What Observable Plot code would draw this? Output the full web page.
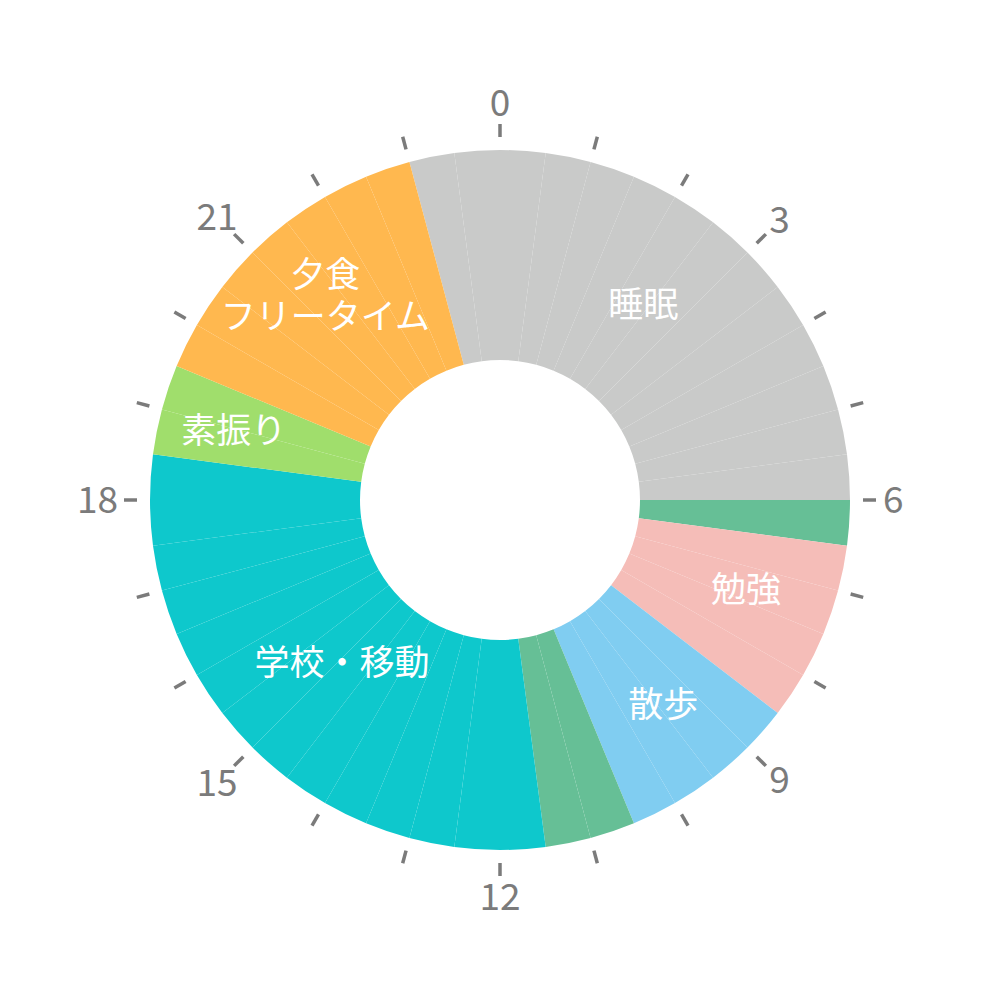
<!DOCTYPE html>
<html>
<head>
<meta charset="utf-8">
<script src="https://cdn.jsdelivr.net/npm/d3@7"></script>
<script src="https://cdn.jsdelivr.net/npm/@observablehq/plot@0.6"></script>
<style>
  html, body { margin: 0; padding: 0; background: #ffffff; }
  #chart { width: 1000px; height: 1000px; }
</style>
</head>
<body>
<div id="chart"></div>
<script>
// ---- Data: a day schedule (hours, 24h clock), split into 30-minute slots ----
const runActivity = ["睡眠", "食事", "勉強", "散歩", "食事", "学校・移動", "素振り", "夕食・フリータイム"];
const runStart    = [23,     6,      6.5,    8.5,    10.5,   11.5,         18.5,     19.5];
const runEnd      = [6,      6.5,    8.5,    10.5,   11.5,   18.5,         19.5,     23];

const activityOrder  = ["睡眠", "食事", "勉強", "散歩", "学校・移動", "素振り", "夕食・フリータイム"];
const activityColors = ["#c9cac9", "#66bf96", "#f5bdb8", "#80cdf1", "#0ec8cc", "#a0de6c", "#ffb84f"];

const labelActivity = ["睡眠", "勉強", "散歩", "学校・移動", "素振り", "夕食・フリータイム"];
const labelText     = ["睡眠", "勉強", "散歩", "学校・移動", "素振り", "夕食\nフリータイム"];

const tickHours      = [0, 1, 2, 3, 4, 5, 6, 7, 8, 9, 10, 11, 12, 13, 14, 15, 16, 17, 18, 19, 20, 21, 22, 23];
const tickLabelHours = [0, 3, 6, 9, 12, 15, 18, 21];
const tickLabelText  = ["0", "3", "6", "9", "12", "15", "18", "21"];

// ---- Build tables from the arrays ----
const SLOT = 0.5;
const slots = [];
runActivity.forEach((a, i) => {
  const s = runStart[i];
  const e = runEnd[i] < s ? runEnd[i] + 24 : runEnd[i];
  for (let t = s; t < e - 1e-9; t += SLOT) {
    const st = t % 24;
    slots.push({activity: a, start: st, end: st + SLOT});
  }
});

const labels = labelActivity.map((a, k) => {
  const i = runActivity.indexOf(a);
  const s = runStart[i];
  const e = runEnd[i] < s ? runEnd[i] + 24 : runEnd[i];
  return {activity: a, text: labelText[k], mid: ((s + e) / 2) % 24};
});

const hourLabels = tickLabelHours.map((h, i) => ({hour: h, text: tickLabelText[i]}));

// ---- Styling / geometry (not data) ----
const R_IN = 140, R_OUT = 350;
const TICK_IN = 363, TICK_OUT = 376;
const HOUR_LABEL_GAP = 384;
const HOUR_FONT = 37;
const LABEL_FONT = 35, LABEL_LINE = 42;
const FONT = "'Noto Sans CJK JP', 'Noto Sans', sans-serif";
const GRAY = "#7b7b7b";
const labelPlacement = {
  "睡眠": {r: 242, dh: -0.08},
  "勉強": {r: 262, dh: -0.16},
  "散歩": {r: 262, dh: -0.07},
  "学校・移動": {r: 227, dh: -0.06},
  "素振り": {r: 275, dh: -0.03},
  "夕食・フリータイム": {r: 269, dh: 0.05}
};

function center(dim) {
  return [
    dim.marginLeft + (dim.width - dim.marginLeft - dim.marginRight) / 2,
    dim.marginTop + (dim.height - dim.marginTop - dim.marginBottom) / 2
  ];
}

const arcMark = Plot.barX(slots, {
  x1: "start", x2: "end", fill: "activity",
  render(index, scales, values, dim) {
    const [cx, cy] = center(dim);
    const arc = d3.arc().innerRadius(R_IN).outerRadius(R_OUT);
    const g = d3.create("svg:g").attr("transform", `translate(${cx},${cy})`);
    g.selectAll("path").data(index).join("path")
      .attr("d", i => arc({startAngle: values.x1[i], endAngle: values.x2[i]}))
      .attr("fill", i => values.fill[i]);
    return g.node();
  }
});

const tickMark = Plot.ruleX(tickHours, {
  x: d => d,
  render(index, scales, values, dim) {
    const [cx, cy] = center(dim);
    const g = d3.create("svg:g").attr("transform", `translate(${cx},${cy})`);
    g.selectAll("line").data(index).join("line")
      .attr("x1", i => TICK_IN * Math.sin(values.x[i]))
      .attr("y1", i => -TICK_IN * Math.cos(values.x[i]))
      .attr("x2", i => TICK_OUT * Math.sin(values.x[i]))
      .attr("y2", i => -TICK_OUT * Math.cos(values.x[i]))
      .attr("stroke", GRAY)
      .attr("stroke-width", 3.5);
    return g.node();
  }
});

const hourTextMark = Plot.text(hourLabels, {
  x: "hour", text: "text",
  render(index, scales, values, dim) {
    const [cx, cy] = center(dim);
    const g = d3.create("svg:g").attr("transform", `translate(${cx},${cy})`);
    g.selectAll("text").data(index).join("text")
      .each(function(i) {
        const a = values.x[i];
        const t = values.text[i];
        const w = t.length * HOUR_FONT * 0.5, h = HOUR_FONT * 0.72;
        const r = HOUR_LABEL_GAP + Math.hypot(Math.sin(a) * w / 2, Math.cos(a) * h / 2);
        d3.select(this)
          .attr("x", r * Math.sin(a))
          .attr("y", -r * Math.cos(a))
          .attr("dy", "0.35em")
          .attr("text-anchor", "middle")
          .attr("font-family", FONT)
          .attr("font-size", HOUR_FONT)
          .attr("fill", GRAY)
          .text(t);
      });
    return g.node();
  }
});

const hourScale = d3.scaleLinear().domain([0, 24]).range([0, 2 * Math.PI]);
const labelMark = Plot.text(labels, {
  x: "mid", text: "text",
  render(index, scales, values, dim) {
    const [cx, cy] = center(dim);
    const g = d3.create("svg:g").attr("transform", `translate(${cx},${cy})`);
    index.forEach(i => {
      const act = labels[i].activity;
      const p = labelPlacement[act] || {r: 250, dh: 0};
      const a = values.x[i] + (hourScale(p.dh) - hourScale(0));
      const x = p.r * Math.sin(a), y = -p.r * Math.cos(a);
      const lines = String(values.text[i]).split("\n");
      const t = g.append("text")
        .attr("text-anchor", "middle")
        .attr("font-family", FONT)
        .attr("font-size", LABEL_FONT)
        .attr("fill", "#ffffff");
      lines.forEach((ln, j) => {
        t.append("tspan")
          .attr("x", x)
          .attr("y", y + (j - (lines.length - 1) / 2) * LABEL_LINE)
          .attr("dy", "0.35em")
          .text(ln);
      });
    });
    return g.node();
  }
});

const chart = Plot.plot({
  width: 1000,
  height: 1000,
  margin: 0,
  style: {background: "#ffffff"},
  x: {domain: [0, 24], range: [0, 2 * Math.PI], axis: null},
  y: {axis: null},
  color: {domain: activityOrder, range: activityColors},
  marks: [arcMark, tickMark, hourTextMark, labelMark]
});

document.getElementById("chart").appendChild(chart);
</script>
</body>
</html>
